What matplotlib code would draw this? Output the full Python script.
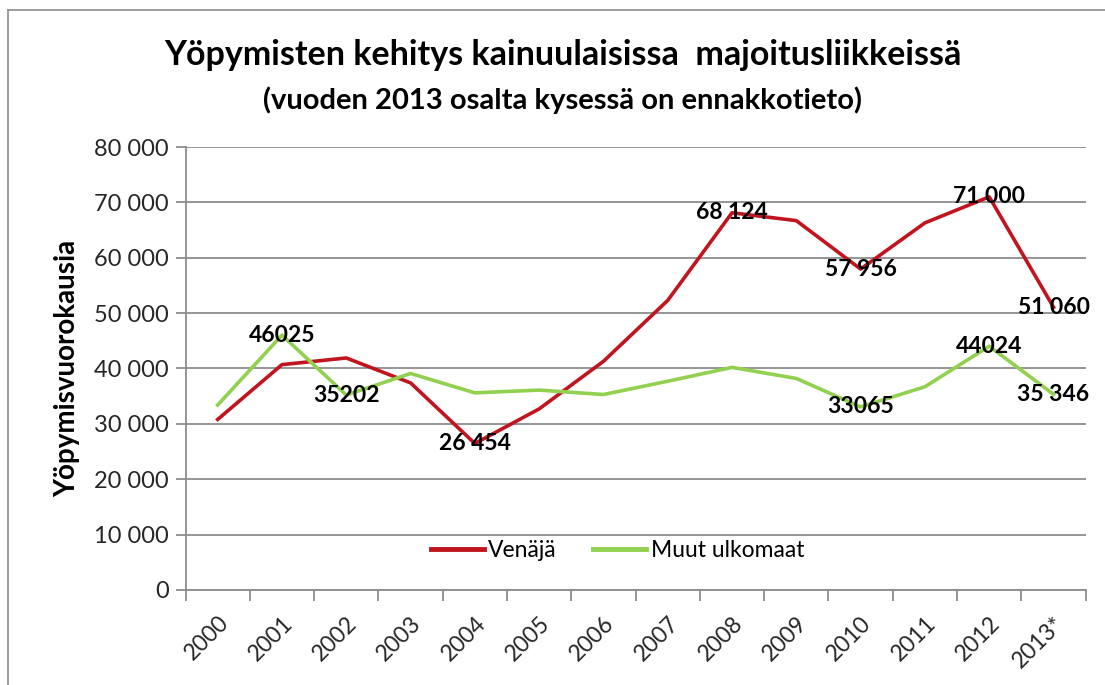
import numpy as np
import matplotlib.pyplot as plt
from matplotlib.lines import Line2D

# data
years = ['2000', '2001', '2002', '2003', '2004', '2005', '2006',
         '2007', '2008', '2009', '2010', '2011', '2012', '2013*']
venaja = [30800, 40700, 41900, 37400, 26454, 32700, 41300,
          52300, 68124, 66700, 57956, 66300, 71000, 51060]
muut = [33400, 46025, 35202, 39100, 35600, 36100, 35300,
        37700, 40200, 38200, 33065, 36700, 44024, 35346]
venaja_labels = ['', '', '', '', '26 454', '', '', '', '68 124', '', '57 956', '', '71 000', '51 060']
muut_labels = ['', '46025', '35202', '', '', '', '', '', '', '', '33065', '', '44024', '35 346']

red = '#C0141E'
green = '#92D050'
grid_col = '#8C8C8C'

plt.rcParams['font.family'] = ['Lato', 'DejaVu Sans']

fig = plt.figure(figsize=(11.05, 6.85), dpi=100)
ax = fig.add_axes([0.1679, 0.1387, 0.8146, 0.6467])

x = np.arange(len(years))
ax.plot(x, venaja, color=red, lw=2.6, label='Venäjä', solid_joinstyle='round')
ax.plot(x, muut, color=green, lw=2.6, label='Muut ulkomaat', solid_joinstyle='round')

for xi, v, t in zip(x, venaja, venaja_labels):
    if t:
        ax.text(xi, v, t, ha='center', va='center', fontsize=16.5, fontweight='bold', color='black')
for xi, v, t in zip(x, muut, muut_labels):
    if t:
        ax.text(xi, v, t, ha='center', va='center', fontsize=16.5, fontweight='bold', color='black')

ax.set_xlim(-0.5, len(years) - 0.5)
ax.set_ylim(0, 80000)
yt = np.arange(0, 80001, 10000)
ax.set_yticks(yt)
ax.set_yticklabels([f'{v:,}'.replace(',', ' ') for v in yt], fontsize=17, color='#262626')
ax.yaxis.grid(True, color=grid_col, lw=1.3)
ax.set_axisbelow(True)

ax.set_xticks(x)
ax.set_xticklabels(years, rotation=45, ha='right', rotation_mode='anchor', fontsize=16.5, color='#262626')
ax.set_xticks(np.arange(-0.5, len(years)), minor=True)
ax.tick_params(axis='x', which='major', length=0, pad=16)
ax.tick_params(axis='x', which='minor', length=8, color=grid_col, width=1.3)
ax.tick_params(axis='y', length=7, color=grid_col, width=1.3, pad=5)

for s in ['top', 'right']:
    ax.spines[s].set_visible(False)
for s in ['left', 'bottom']:
    ax.spines[s].set_color(grid_col)
    ax.spines[s].set_linewidth(1.3)

ax.set_ylabel('Yöpymisvuorokausia', fontsize=20, fontweight='bold', labelpad=10)

leg = ax.legend(loc='center', bbox_to_anchor=(0.48, 0.09), ncol=2, frameon=False,
                fontsize=16.5, handlelength=2.3, columnspacing=1.6, handletextpad=0.2)
for h in leg.legend_handles:
    h.set_linewidth(3.5)

fig.text(0.509, 0.92, 'Yöpymisten kehitys kainuulaisissa  majoitusliikkeissä',
         ha='center', va='center', fontsize=24.5, fontweight='bold')
fig.text(0.509, 0.854, '(vuoden 2013 osalta kysessä on ennakkotieto)',
         ha='center', va='center', fontsize=21, fontweight='bold')

# chart area border (left and top only visible)
fig.add_artist(Line2D([0.0072, 0.0072], [0.0, 0.985], color='#8C8C8C', lw=1.2))
fig.add_artist(Line2D([0.0072, 1.0], [0.985, 0.985], color='#8C8C8C', lw=1.2))

fig.savefig('out.png', dpi=100)
